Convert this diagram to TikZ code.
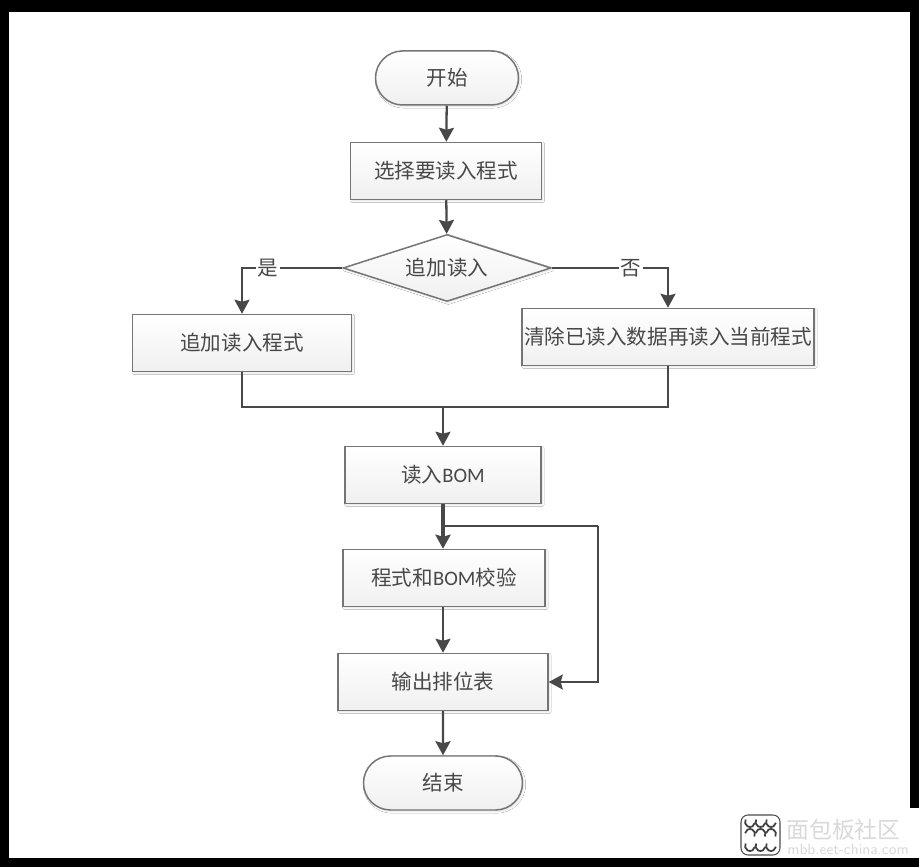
\documentclass[tikz,border=0pt]{standalone}
\usepackage{fontspec}
\usepackage{xcolor}
\usetikzlibrary{arrows.meta,shapes.geometric,shapes.misc,shadows.blur}
\setmainfont{Carlito}
\newfontfamily\cjk{Noto Sans CJK SC}
\definecolor{boxline}{HTML}{757575}
\definecolor{arrowline}{HTML}{484848}
\definecolor{labeltext}{HTML}{484848}
\tikzset{
  flowbox/.style={draw=boxline,line width=0.85pt,top color=white,bottom color=black!6,
    text=labeltext,font=\fontsize{11.7}{14}\cjk,inner sep=0pt,
    blur shadow={shadow xshift=0.8pt,shadow yshift=-0.8pt,shadow blur steps=4,shadow blur radius=1pt,shadow opacity=12}},
  procbox/.style={flowbox,rectangle,minimum height=1.14cm},
  endbox/.style={flowbox,rounded rectangle,minimum height=1.08cm},
  choicebox/.style={flowbox,diamond,aspect=3.1},
  flowline/.style={draw=arrowline,line width=1.3pt},
  yesno/.style={fill=white,text=labeltext,font=\fontsize{11.7}{14}\cjk,inner sep=1pt}
}
\begin{document}
\begin{tikzpicture}[>={Stealth[length=2.8mm,width=3mm,inset=0.4mm]}]
\useasboundingbox (0,0) rectangle (18.38,17.34);
\fill[black] (0,0) rectangle (18.38,17.34);
\fill[white] (0.18,0.18) rectangle (18.2,17.1);
\fill[white] (14.66,0.18) rectangle (18.38,1.18);

\node[endbox,minimum width=2.86cm] (start) at (8.94,15.78) {开始};
\node[procbox,minimum width=3.82cm] (select) at (8.92,13.92) {选择要读入程式};
\node[choicebox,minimum width=4.16cm,minimum height=1.34cm] (append) at (8.94,11.98) {追加读入};
\node[procbox,minimum width=4.38cm] (appendread) at (4.84,10.48) {追加读入程式};
\node[procbox,minimum width=5.84cm] (clearread) at (13.36,10.6) {清除已读入数据再读入当前程式};
\node[procbox,minimum width=3.92cm] (bom) at (8.86,7.84) {读入{\rmfamily BOM}};
\node[procbox,minimum width=4.04cm] (check) at (8.88,5.78) {程式和{\rmfamily BOM}校验};
\node[procbox,minimum width=4.2cm] (table) at (8.86,3.7) {输出排位表};
\node[endbox,minimum width=3.18cm] (stop) at (8.86,1.68) {结束};

\coordinate (join) at (8.86,9.2);
\coordinate (branch) at (8.86,6.82);
\coordinate (loop) at (11.96,6.82);

\draw[flowline,->] (start) -- (select);
\draw[flowline,->] (select) -- (append);
\draw[flowline,->] (append.west) -| node[yesno,pos=0.37] (yes) {是} (appendread.north);
\draw[flowline,->] (append.east) -| node[yesno,pos=0.34] (no) {否} (clearread.north);
\draw[flowline] (appendread.south) |- (join);
\draw[flowline] (clearread.south) |- (join);
\draw[flowline,->] (join) -- (bom.north -| join);
\draw[flowline,line width=1.8pt,->] (bom.south -| branch) -- (check.north -| branch);
\draw[flowline,line width=1.1pt] (branch) -- (loop);
\draw[flowline,line width=1.1pt,->] (loop) |- (table.east);
\draw[flowline,->] (check.south -| table) -- (table.north);
\draw[flowline,->] (table) -- (stop);

\draw[black!70,line width=0.6pt,rounded corners=4pt] (14.82,0.24) rectangle (15.6,1.04);
\foreach \row/\ang in {0.42/150,0.66/-30,0.9/150}
  \foreach \col in {15.0,15.21,15.42}
    \draw[black!75,line width=1pt] (\col,\row) ++(\ang:0.1) arc (\ang:\ang+200:0.1);
\node[text=black!15,font=\fontsize{13}{15}\cjk,anchor=west,inner sep=0pt] (brand) at (15.72,0.74) {面包板社区};
\node[text=black!15,font=\fontsize{8.5}{10}\sffamily,anchor=west,inner sep=0pt] (site) at (15.74,0.36) {mbb.eet-china.com};
\end{tikzpicture}
\end{document}
